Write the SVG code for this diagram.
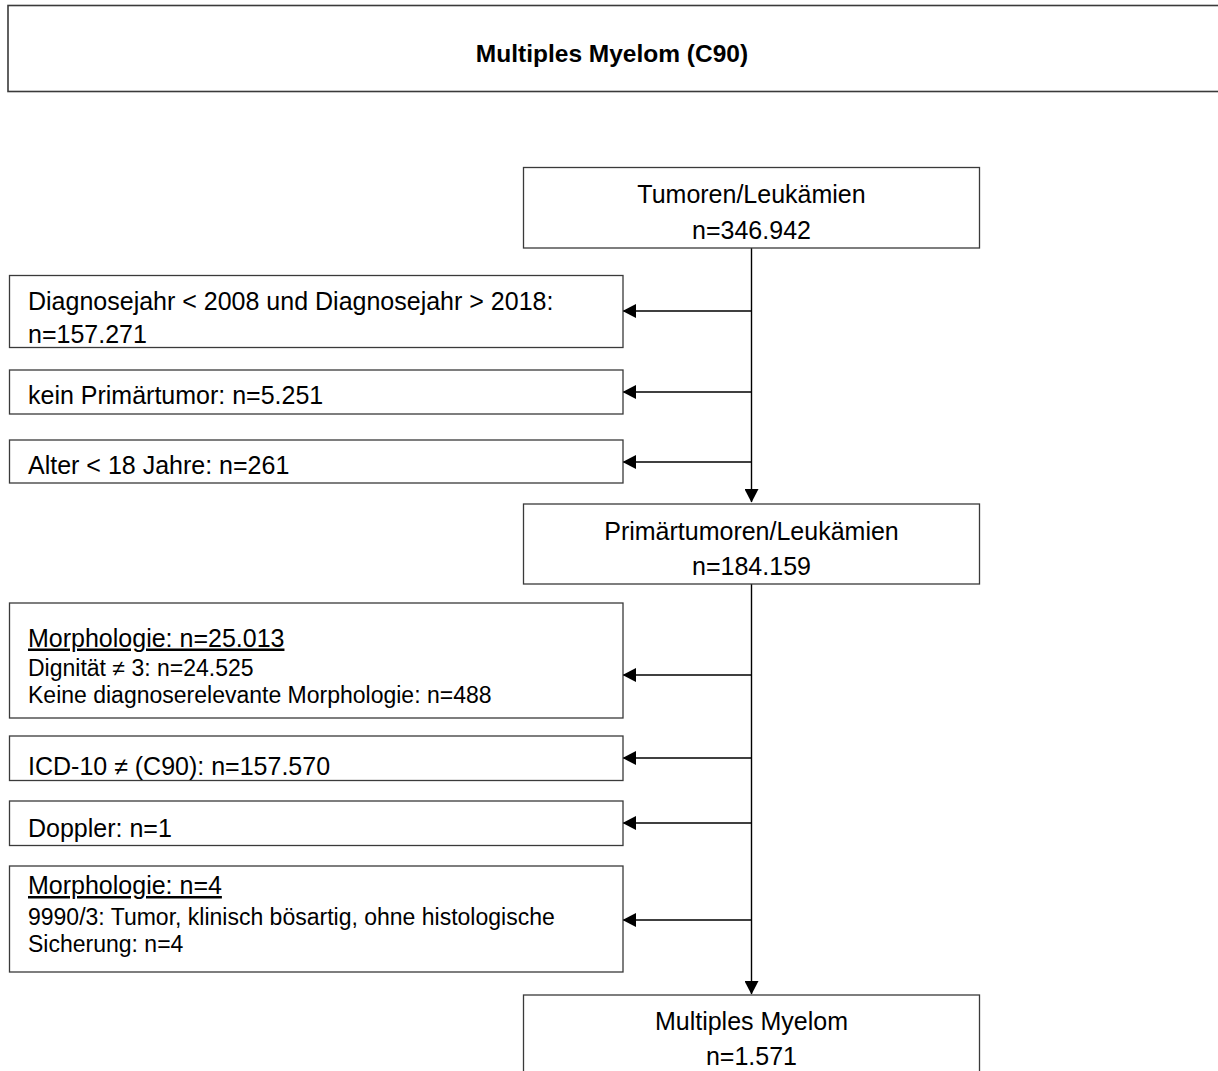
<svg xmlns="http://www.w3.org/2000/svg" width="1218" height="1071" viewBox="0 0 1218 1071">
<defs>
<style>
.box{fill:#fff;stroke:#3a3a3a;stroke-width:1.3}
.tb{fill:#fff;stroke:#3a3a3a;stroke-width:1.6}
.t{font-family:"Liberation Sans",Arial,sans-serif;font-size:25px;fill:#000}
.s{font-family:"Liberation Sans",Arial,sans-serif;font-size:23px;fill:#000}
.c{text-anchor:middle}
.title{font-family:"Liberation Sans",Arial,sans-serif;font-size:24.5px;font-weight:bold;fill:#000;text-anchor:middle}
.ln{stroke:#000;stroke-width:1.4;fill:none}
</style>
<marker id="ah" markerWidth="14" markerHeight="14" refX="13" refY="7" orient="auto" markerUnits="userSpaceOnUse">
<path d="M0,0 L13.5,7 L0,14 Z" fill="#000"/>
</marker>
</defs>
<rect width="1218" height="1071" fill="#fff"/>

<g id="title">
<rect class="tb" x="8" y="5.5" width="1220" height="86"/>
<text class="title" x="612" y="62">Multiples Myelom (C90)</text>
</g>

<g id="connectors">
<line class="ln" x1="751.5" y1="248" x2="751.5" y2="502" marker-end="url(#ah)"/>
<line class="ln" x1="751.5" y1="311" x2="623" y2="311" marker-end="url(#ah)"/>
<line class="ln" x1="751.5" y1="392" x2="623" y2="392" marker-end="url(#ah)"/>
<line class="ln" x1="751.5" y1="462" x2="623" y2="462" marker-end="url(#ah)"/>
<line class="ln" x1="751.5" y1="584" x2="751.5" y2="994" marker-end="url(#ah)"/>
<line class="ln" x1="751.5" y1="675" x2="623" y2="675" marker-end="url(#ah)"/>
<line class="ln" x1="751.5" y1="758" x2="623" y2="758" marker-end="url(#ah)"/>
<line class="ln" x1="751.5" y1="823" x2="623" y2="823" marker-end="url(#ah)"/>
<line class="ln" x1="751.5" y1="920" x2="623" y2="920" marker-end="url(#ah)"/>
</g>

<g id="tumoren">
<rect class="box" x="523.5" y="167.5" width="456" height="80.5"/>
<text class="t c" x="751.5" y="203">Tumoren/Leukämien</text>
<text class="t c" x="751.5" y="239">n=346.942</text>
</g>

<g id="diagnosejahr">
<rect class="box" x="9.5" y="275.5" width="613.5" height="72"/>
<text class="t" x="28" y="310">Diagnosejahr &lt; 2008 und Diagnosejahr &gt; 2018:</text>
<text class="t" x="28" y="342.5">n=157.271</text>
</g>

<g id="kein-primaertumor">
<rect class="box" x="9.5" y="370" width="613.5" height="44"/>
<text class="t" x="28" y="404">kein Primärtumor: n=5.251</text>
</g>

<g id="alter">
<rect class="box" x="9.5" y="440" width="613.5" height="43"/>
<text class="t" x="28" y="474">Alter &lt; 18 Jahre: n=261</text>
</g>

<g id="primaertumoren">
<rect class="box" x="523.5" y="504" width="456" height="80"/>
<text class="t c" x="751.5" y="540">Primärtumoren/Leukämien</text>
<text class="t c" x="751.5" y="575">n=184.159</text>
</g>

<g id="morphologie-1">
<rect class="box" x="9.5" y="603" width="613.5" height="115"/>
<text class="t" x="28" y="646.5" text-decoration="underline">Morphologie: n=25.013</text>
<text class="s" x="28" y="676">Dignität ≠ 3: n=24.525</text>
<text class="s" x="28" y="703">Keine diagnoserelevante Morphologie: n=488</text>
</g>

<g id="icd10">
<rect class="box" x="9.5" y="736" width="613.5" height="44.5"/>
<text class="t" x="28" y="775">ICD-10 ≠ (C90): n=157.570</text>
</g>

<g id="doppler">
<rect class="box" x="9.5" y="801" width="613.5" height="44.5"/>
<text class="t" x="28" y="837">Doppler: n=1</text>
</g>

<g id="morphologie-2">
<rect class="box" x="9.5" y="866" width="613.5" height="106"/>
<text class="t" x="28" y="894" text-decoration="underline">Morphologie: n=4</text>
<text class="s" x="28" y="925">9990/3: Tumor, klinisch bösartig, ohne histologische</text>
<text class="s" x="28" y="952">Sicherung: n=4</text>
</g>

<g id="multiples-myelom">
<rect class="box" x="523.5" y="995" width="456" height="90"/>
<text class="t c" x="751.5" y="1030">Multiples Myelom</text>
<text class="t c" x="751.5" y="1065">n=1.571</text>
</g>
</svg>
